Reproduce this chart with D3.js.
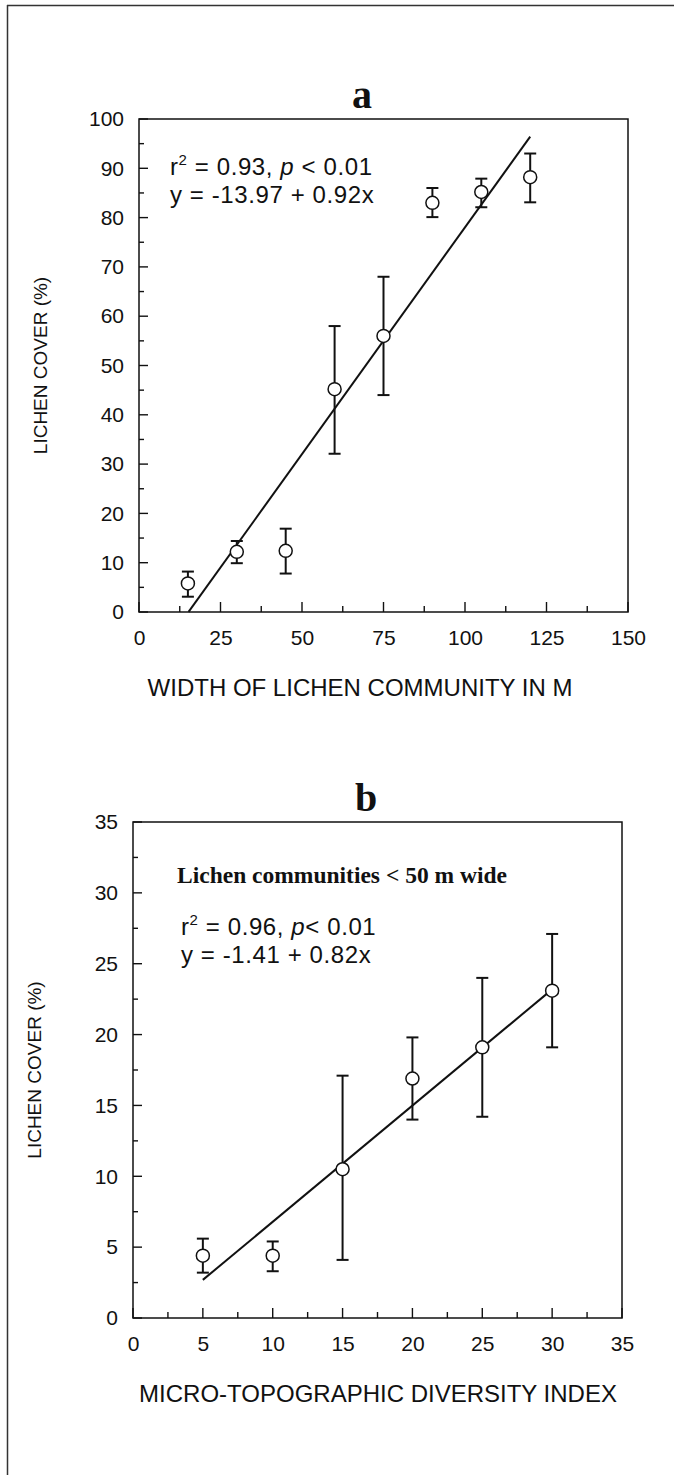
<!DOCTYPE html>
<html><head><meta charset="utf-8">
<script src="https://cdn.jsdelivr.net/npm/d3@7"></script>
<style>body{margin:0;background:#fff}svg{display:block}</style>
</head><body>
<svg id="c" width="674" height="1475"></svg>
<script>
// Panel a data
const aX = [15, 30, 45, 60, 75, 90, 105, 120];
const aY = [5.8, 12.2, 12.4, 45.2, 56, 83, 85.2, 88.2];
const aLo = [3.1, 9.9, 7.8, 32.1, 44, 80.1, 82.1, 83.1];
const aHi = [8.2, 14.4, 16.9, 58, 68, 86, 87.9, 93];
const aFit = {intercept: -13.97, slope: 0.92, x0: 15.2, x1: 120};
const aXTicks = [0, 25, 50, 75, 100, 125, 150];
const aYTicks = [0, 10, 20, 30, 40, 50, 60, 70, 80, 90, 100];
// Panel b data
const bX = [5, 10, 15, 20, 25, 30];
const bY = [4.4, 4.4, 10.5, 16.9, 19.1, 23.1];
const bLo = [3.2, 3.3, 4.1, 14.0, 14.2, 19.1];
const bHi = [5.6, 5.4, 17.1, 19.8, 24.0, 27.1];
const bFit = {intercept: -1.41, slope: 0.82, x0: 5, x1: 30};
const bXTicks = [0, 5, 10, 15, 20, 25, 30, 35];
const bYTicks = [0, 5, 10, 15, 20, 25, 30, 35];

const svg = d3.select("#c");
const sans = "'Liberation Sans', Arial, sans-serif";
const serif = "'Liberation Serif', 'Times New Roman', serif";

// outer border (top and left)
svg.append("line").attr("x1",7).attr("x2",674).attr("y1",5.5).attr("y2",5.5).attr("stroke","#333").attr("stroke-width",1.5);
svg.append("line").attr("x1",7.5).attr("x2",7.5).attr("y1",5).attr("y2",1475).attr("stroke","#333").attr("stroke-width",1.5);

function panel(o) {
  const x = d3.scaleLinear().domain(o.xDom).range([o.left, o.right]);
  const y = d3.scaleLinear().domain(o.yDom).range([o.bottom, o.top]);
  const g = svg.append("g");
  g.append("rect").attr("x",o.left).attr("y",o.top).attr("width",o.right-o.left).attr("height",o.bottom-o.top)
    .attr("fill","none").attr("stroke","#111").attr("stroke-width",1.5);
  const xAx = d3.axisBottom(x).tickValues(o.xTicks).tickSize(0).tickPadding(18).tickFormat(d3.format("d"));
  const gx = g.append("g").attr("transform",`translate(0,${o.bottom})`).call(xAx);
  gx.select(".domain").remove();
  gx.selectAll("text").attr("font-family",sans).attr("font-size",21).attr("fill","#111");
  const yAx = d3.axisLeft(y).tickValues(o.yTicks).tickSize(0).tickPadding(15).tickFormat(d3.format("d"));
  const gy = g.append("g").attr("transform",`translate(${o.left},0)`).call(yAx);
  gy.select(".domain").remove();
  gy.selectAll("text").attr("font-family",sans).attr("font-size",21).attr("fill","#111");
  const xMinor = d3.range(o.xDom[0], o.xDom[1]+1e-9, o.xStep/2);
  g.append("g").selectAll("line").data(xMinor).join("line")
    .attr("x1",d=>x(d)).attr("x2",d=>x(d)).attr("y1",o.bottom)
    .attr("y2",d=>o.bottom - (Math.abs(d/o.xStep - Math.round(d/o.xStep))<1e-6 ? 10 : 6))
    .attr("stroke","#111").attr("stroke-width",1.4);
  const yMinor = d3.range(o.yDom[0], o.yDom[1]+1e-9, o.yStep/2);
  g.append("g").selectAll("line").data(yMinor).join("line")
    .attr("y1",d=>y(d)).attr("y2",d=>y(d)).attr("x1",o.left)
    .attr("x2",d=>o.left + (Math.abs(d/o.yStep - Math.round(d/o.yStep))<1e-6 ? 9 : 5))
    .attr("stroke","#111").attr("stroke-width",1.4);
  g.append("line").attr("x1",x(o.fit.x0)).attr("y1",y(o.fit.intercept+o.fit.slope*o.fit.x0))
    .attr("x2",x(o.fit.x1)).attr("y2",y(o.fit.intercept+o.fit.slope*o.fit.x1))
    .attr("stroke","#111").attr("stroke-width",2);
  const idx = d3.range(o.xs.length);
  const eb = g.append("g").attr("stroke","#111").attr("stroke-width",2);
  eb.selectAll(".v").data(idx).join("line").attr("x1",i=>x(o.xs[i])).attr("x2",i=>x(o.xs[i]))
    .attr("y1",i=>y(o.lo[i])).attr("y2",i=>y(o.hi[i]));
  eb.selectAll(".t").data(idx).join("line").attr("x1",i=>x(o.xs[i])-6).attr("x2",i=>x(o.xs[i])+6)
    .attr("y1",i=>y(o.hi[i])).attr("y2",i=>y(o.hi[i]));
  eb.selectAll(".b").data(idx).join("line").attr("x1",i=>x(o.xs[i])-6).attr("x2",i=>x(o.xs[i])+6)
    .attr("y1",i=>y(o.lo[i])).attr("y2",i=>y(o.lo[i]));
  g.append("g").selectAll("circle").data(idx).join("circle")
    .attr("cx",i=>x(o.xs[i])).attr("cy",i=>y(o.ys[i])).attr("r",6.5)
    .attr("fill","#fff").attr("stroke","#111").attr("stroke-width",1.5);
  g.append("text").attr("x",o.titleX).attr("y",o.top-11).attr("text-anchor","middle")
    .attr("font-family",serif).attr("font-weight","bold").attr("font-size",40).attr("fill","#111").text(o.title);
  g.append("text").attr("x",o.xTitleX).attr("y",o.bottom+84).attr("text-anchor","middle")
    .attr("font-family",sans).attr("font-size",24).attr("fill","#111").text(o.xTitle);
  g.append("text").attr("transform",`translate(${o.left-92},${(o.top+o.bottom)/2}) rotate(-90)`)
    .attr("text-anchor","middle").attr("font-family",sans).attr("font-size",19).attr("fill","#111").text("LICHEN COVER (%)");
  return {g, x, y};
}

const A = panel({left:139, right:628, top:119, bottom:612, xDom:[0,150], yDom:[0,100], xStep:25, yStep:10,
  xTicks:aXTicks, yTicks:aYTicks, xs:aX, ys:aY, lo:aLo, hi:aHi, fit:aFit, title:"a", titleX:362,
  xTitle:"WIDTH OF LICHEN COMMUNITY IN M", xTitleX:360});
const B = panel({left:133, right:622, top:822, bottom:1318, xDom:[0,35], yDom:[0,35], xStep:5, yStep:5,
  xTicks:bXTicks, yTicks:bYTicks, xs:bX, ys:bY, lo:bLo, hi:bHi, fit:bFit, title:"b", titleX:366,
  xTitle:"MICRO-TOPOGRAPHIC DIVERSITY INDEX", xTitleX:378});

function stats(g, x0, y0, r2, eq, pGap) {
  const t1 = g.append("text").attr("x",x0).attr("y",y0).attr("font-family",sans).attr("font-size",24)
    .attr("letter-spacing",0.6).attr("fill","#111");
  t1.append("tspan").text("r");
  t1.append("tspan").attr("font-size",15).attr("dy",-10).text("2");
  t1.append("tspan").attr("dy",10).text(" = " + r2 + ", ");
  t1.append("tspan").attr("font-style","italic").text("p");
  t1.append("tspan").text(pGap + "< 0.01");
  g.append("text").attr("x",x0).attr("y",y0+28).attr("font-family",sans).attr("font-size",24)
    .attr("letter-spacing",0.6).attr("fill","#111").text(eq);
}
stats(A.g, 170, 175, "0.93", "y = -13.97 + 0.92x", " ");
B.g.append("text").attr("x",177).attr("y",883).attr("font-family",serif).attr("font-weight","bold").attr("font-size",23.5).attr("fill","#111").text("Lichen communities < 50 m wide");
stats(B.g, 181, 935, "0.96", "y = -1.41 + 0.82x", "");
</script>
</body></html>
